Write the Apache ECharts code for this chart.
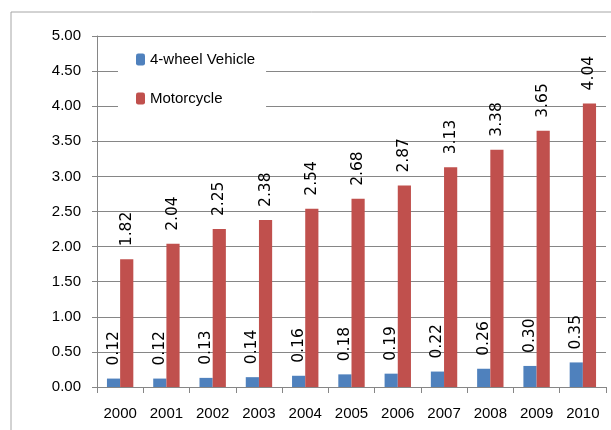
<!DOCTYPE html>
<html><head><meta charset="utf-8">
<script src="https://cdn.jsdelivr.net/npm/echarts@6/dist/echarts.min.js"></script>
<style>html,body{margin:0;padding:0;background:#fff}#c{width:611px;height:430px}</style>
</head><body><div id="c"></div>
<script>
const categories = ['2000','2001','2002','2003','2004','2005','2006','2007','2008','2009','2010'];
const vehicle4w = [0.12,0.12,0.13,0.14,0.16,0.18,0.19,0.22,0.26,0.30,0.35];
const motorcycle = [1.82,2.04,2.25,2.38,2.54,2.68,2.87,3.13,3.38,3.65,4.04];
const yTicks = [0,0.5,1,1.5,2,2.5,3,3.5,4,4.5,5];

const FONT = "'Liberation Sans', sans-serif";
const LFONT = "'DejaVu Sans', sans-serif";
const chart = echarts.init(document.getElementById('c'), null, {renderer:'canvas'});
const lbl = {
  show:true, position:'top', rotate:90, align:'left', verticalAlign:'middle',
  distance:13, color:'#000', fontFamily:LFONT, fontSize:15.5,
  formatter: p => p.value.toFixed(2)
};
chart.setOption({
  animation:false,
  textStyle:{fontFamily:FONT},
  graphic:[{type:'polyline', shape:{points:[[11,431],[11,12],[612,12]]}, style:{stroke:'#a6a6a6', lineWidth:1, fill:null}, z:-1}],
  grid:{left:97, right:5, top:36, bottom:43},
  legend:{
    orient:'vertical', left:118, top:42, padding:[10,11,10,18], itemGap:24,
    itemWidth:9, itemHeight:12, itemTextGap:4, backgroundColor:'#fff', z:10,
    textStyle:{fontFamily:FONT, fontSize:15, color:'#000'},
    data:['4-wheel Vehicle','Motorcycle']
  },
  xAxis:{
    type:'category', data:categories,
    axisLine:{lineStyle:{color:'#868686'}},
    axisTick:{show:true, length:6, lineStyle:{color:'#868686'}},
    axisLabel:{color:'#000', fontSize:15, fontFamily:FONT, margin:19, interval:0}
  },
  yAxis:{
    type:'value', min:0, max:5, interval:0.5,
    axisLine:{show:true, lineStyle:{color:'#868686'}},
    axisTick:{show:true, length:5, lineStyle:{color:'#868686'}},
    splitLine:{lineStyle:{color:'#868686'}},
    axisLabel:{color:'#000', fontSize:15, fontFamily:FONT, margin:16, formatter:v=>v.toFixed(2)}
  },
  series:[
    {name:'4-wheel Vehicle', type:'bar', data:vehicle4w, barGap:'0%', barCategoryGap:'43%', itemStyle:{color:'#4F81BD'}, label:lbl},
    {name:'Motorcycle', type:'bar', data:motorcycle, barGap:'0%', barCategoryGap:'43%', itemStyle:{color:'#C0504D'}, label:lbl}
  ]
});
</script></body></html>
